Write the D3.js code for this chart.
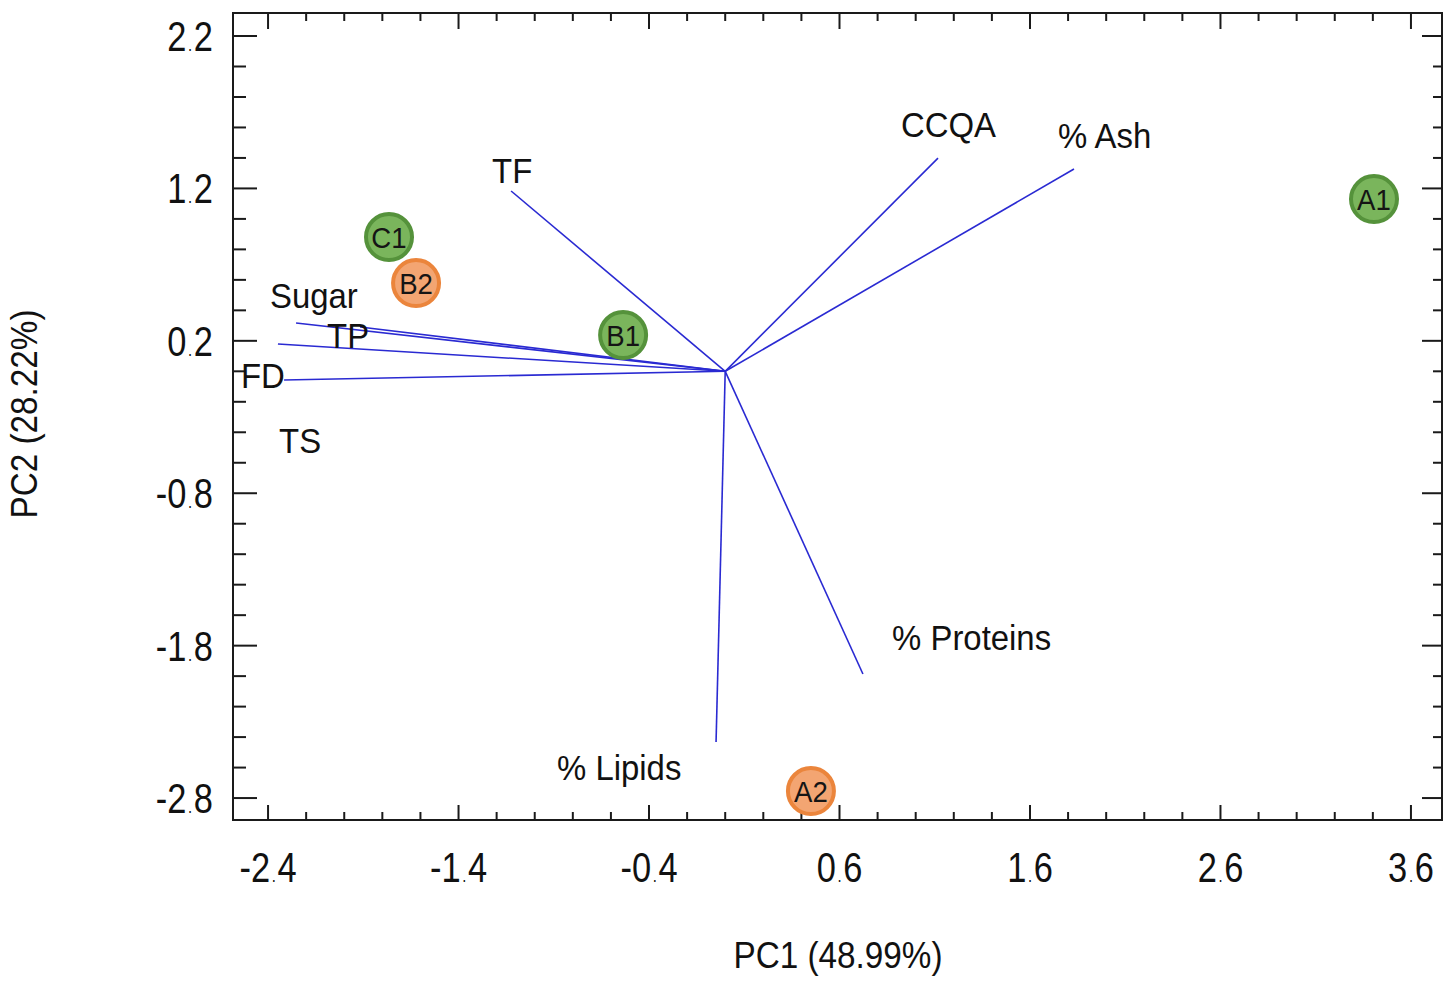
<!DOCTYPE html>
<html><head><meta charset="utf-8">
<script src="https://cdn.jsdelivr.net/npm/d3@7"></script>
<style>body{margin:0;background:#fff}svg{display:block}</style>
</head><body>
<svg id="c" width="1444" height="985"></svg>
<script>
// ---- data ----
const xTickValues = [-2.4, -1.4, -0.4, 0.6, 1.6, 2.6, 3.6];
const yTickValues = [2.2, 1.2, 0.2, -0.8, -1.8, -2.8];
const sampleNames = ["A1", "C1", "B2", "B1", "A2"];
const sampleX = [3.406, -1.765, -1.623, -0.536, 0.450];
const sampleY = [1.130, 0.881, 0.579, 0.238, -2.754];
const sampleGroup = ["g", "g", "o", "g", "o"];
const varNames = ["TF", "CCQA", "% Ash", "Sugar", "TP", "FD", "TS", "% Proteins", "% Lipids"];
const varX = [-1.124, 1.117, 1.831, -2.253, -1.917, -2.348, -2.316, 0.723, -0.048];
const varY = [1.183, 1.399, 1.327, 0.317, 0.291, 0.179, -0.057, -1.986, -2.432];
const labelX = [-1.224, 0.923, 1.747, -2.39, -2.09, -2.542, -2.342, 0.876, -0.883];
const labelY = [1.235, 1.537, 1.465, 0.415, 0.153, -0.110, -0.536, -1.829, -2.682];
const xTitle = "PC1 (48.99%)";
const yTitle = "PC2 (28.22%)";

// ---- layout ----
const L = 233, R = 1442, T = 13, B = 820;
const x = d3.scaleLinear().domain([-2.584, 3.763]).range([L, R]);
const y = d3.scaleLinear().domain([2.351, -2.944]).range([T, B]);
const svg = d3.select("#c");
const font = "'Liberation Sans', Arial, Helvetica, sans-serif";

// minor ticks every 0.2
const xMinor = d3.range(0, 31).map(i => +(-2.4 + i * 0.2).toFixed(1));
const yMinor = d3.range(0, 26).map(i => +(-2.8 + i * 0.2).toFixed(1));
const isMajorX = v => xTickValues.some(t => Math.abs(t - v) < 1e-6);
const isMajorY = v => yTickValues.some(t => Math.abs(t - v) < 1e-6);

const axes = svg.append("g").attr("stroke", "#1a1a1a").attr("stroke-width", 2);
axes.selectAll(".tl").data(yMinor).join("line")
  .attr("x1", L).attr("x2", d => L + (isMajorY(d) ? 24 : 13))
  .attr("y1", d => y(d)).attr("y2", d => y(d));
axes.selectAll(".tr").data(yMinor).join("line")
  .attr("x1", R).attr("x2", d => R - (isMajorY(d) ? 20 : 9))
  .attr("y1", d => y(d)).attr("y2", d => y(d));
axes.selectAll(".tt").data(xMinor).join("line")
  .attr("y1", T).attr("y2", d => T + (isMajorX(d) ? 16 : 8))
  .attr("x1", d => x(d)).attr("x2", d => x(d));
axes.selectAll(".tb").data(xMinor).join("line")
  .attr("y1", B).attr("y2", d => B - (isMajorX(d) ? 15 : 8))
  .attr("x1", d => x(d)).attr("x2", d => x(d));
axes.append("rect").attr("x", L).attr("y", T).attr("width", R - L).attr("height", B - T)
  .attr("fill", "none");

function tickText(sel, v) {
  const s = v.toFixed(1);
  const [a, b] = s.split(".");
  sel.append("tspan").text(a);
  sel.append("tspan").attr("font-size", 18).attr("dx", 2).text(".");
  sel.append("tspan").attr("dx", 2).text(b);
}
yTickValues.forEach(v => {
  const t = svg.append("text")
    .attr("transform", `translate(213,${y(v) + 15}) scale(0.82,1)`)
    .attr("text-anchor", "end").attr("font-family", font).attr("font-size", 42).attr("fill", "#111");
  tickText(t, v);
});
xTickValues.forEach(v => {
  const t = svg.append("text")
    .attr("transform", `translate(${x(v)},882) scale(0.82,1)`)
    .attr("text-anchor", "middle").attr("font-family", font).attr("font-size", 42).attr("fill", "#111");
  tickText(t, v);
});

// axis titles
svg.append("text").attr("transform", "translate(838,968) scale(0.9,1)").attr("text-anchor", "middle")
  .attr("font-family", font).attr("font-size", 37).attr("fill", "#111").text(xTitle);
svg.append("text").attr("transform", "translate(37,414) rotate(-90) scale(0.9,1)").attr("text-anchor", "middle")
  .attr("font-family", font).attr("font-size", 37).attr("fill", "#111").text(yTitle);

// vectors
const vars = varNames.map((n, i) => ({n, x: varX[i], y: varY[i], lx: labelX[i], ly: labelY[i]}));
svg.append("g").selectAll("line").data(vars).join("line")
  .attr("x1", x(0)).attr("y1", y(0))
  .attr("x2", d => x(d.x)).attr("y2", d => y(d.y))
  .attr("stroke", "#2a2ad2").attr("stroke-width", 1.6);

// samples
const samples = sampleNames.map((n, i) => ({n, x: sampleX[i], y: sampleY[i], g: sampleGroup[i]}));
const sg = svg.append("g");
sg.selectAll("circle").data(samples).join("circle")
  .attr("cx", d => x(d.x)).attr("cy", d => y(d.y)).attr("r", 23)
  .attr("fill", d => d.g === "g" ? "#7ab55c" : "#f3a572")
  .attr("stroke", d => d.g === "g" ? "#55923b" : "#eb853c")
  .attr("stroke-width", 4);
sg.selectAll("text").data(samples).join("text")
  .attr("transform", d => `translate(${x(d.x)},${y(d.y) + 10.5}) scale(0.92,1)`)
  .attr("text-anchor", "middle").attr("font-family", font).attr("font-size", 30).attr("fill", "#151515")
  .text(d => d.n);

// variable labels
svg.append("g").selectAll("text").data(vars).join("text")
  .attr("transform", d => `translate(${x(d.lx)},${y(d.ly)}) scale(0.94,1)`)
  .attr("font-family", font).attr("font-size", 35).attr("fill", "#111")
  .text(d => d.n);
</script>
</body></html>
